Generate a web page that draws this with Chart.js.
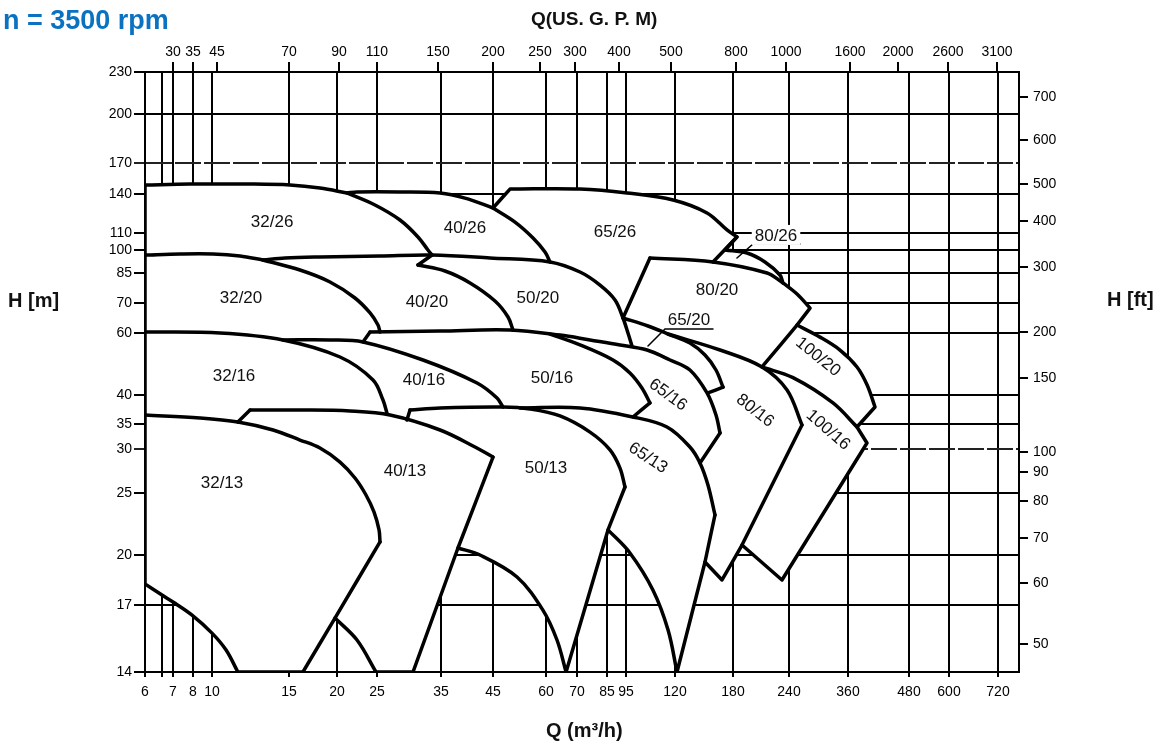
<!DOCTYPE html>
<html lang="en">
<head>
<meta charset="utf-8">
<title>n = 3500 rpm - pump selection chart</title>
<script src="https://cdn.jsdelivr.net/npm/chart.js@4.4.1/dist/chart.umd.min.js"></script>
<style>
  html, body { margin: 0; padding: 0; background: #fff; }
  #wrap { position: relative; width: 1165px; height: 749px; font-family: "Liberation Sans", Arial, sans-serif; }
  #wrap canvas { position: absolute; left: 0; top: 0; }
  .txt { position: absolute; font-weight: bold; line-height: 1; white-space: nowrap; color: #111; }
  #speed { left: 3px; top: 7px; font-size: 27px; color: #0b72c1; }
  #gpmTitle { left: 531px; top: 9px; font-size: 19px; }
  #qTitle { left: 546px; top: 720px; font-size: 20px; }
  #hmTitle { left: 8px; top: 290px; font-size: 20px; }
  #hftTitle { left: 1107px; top: 289px; font-size: 20px; }
</style>
</head>
<body>
<div id="wrap">
  <canvas id="chart" width="1165" height="749"></canvas>
  <div class="txt" id="speed">n = 3500 rpm</div>
  <div class="txt" id="gpmTitle">Q(US. G. P. M)</div>
  <div class="txt" id="qTitle">Q (m³/h)</div>
  <div class="txt" id="hmTitle">H [m]</div>
  <div class="txt" id="hftTitle">H [ft]</div>
</div>
<script>
// ---- axis ticks ----
const qTicks   = [6, 7, 8, 10, 15, 20, 25, 35, 45, 60, 70, 85, 95, 120, 180, 240, 360, 480, 600, 720];
const qGrid    = [6, 6.5, 7, 8, 10, 15, 20, 25, 35, 45, 60, 70, 85, 95, 120, 180, 240, 360, 480, 600, 720];
const gpmTicks = [30, 35, 45, 70, 90, 110, 150, 200, 250, 300, 400, 500, 800, 1000, 1600, 2000, 2600, 3100];
const hTicks   = [14, 17, 20, 25, 30, 35, 40, 60, 70, 85, 100, 110, 140, 170, 200, 230];
const ftTicks  = [50, 60, 70, 80, 90, 100, 150, 200, 300, 400, 500, 600, 700];
const hDashed  = [30, 170];   // these two head lines are printed broken

// ---- operating fields, every point is [Q m3/h, H m] ----
// outer edge of all fields, walked clockwise; pieces meet at corners
const edgeTop26    = [[6, 148.1], [7.84, 149], [12.22, 149], [15.09, 148.1], [18.06, 145.3], [21.14, 140.9]];
const edgeTop40    = [[21.14, 140.9], [22.36, 141.8], [28.21, 141.8], [34.83, 140.9], [39.3, 136.5], [45, 128.4]];
const edgeStep65   = [[45, 128.4], [49.35, 144.4]];
const edgeTop65    = [[49.35, 144.4], [71.37, 144.4], [95.5, 140.9], [118.9, 134.9], [150.1, 124.5], [172.6, 112.1], [183.7, 107.6]];
const edgeStep80   = [[183.7, 107.6], [170.2, 100]];
const edgeTop80_26 = [[170.2, 100], [193.4, 97.9], [212.1, 91.9], [229.1, 83.9], [232.7, 79.7]];
const edgeTop80_20 = [[232.7, 79.7], [253.6, 74.2], [277.3, 68.2]];
const edgeStep100  = [[277.3, 68.2], [253.6, 62.5]];
const edgeTop100   = [[253.6, 62.5], [297, 58.4], [340.7, 53.68], [375.6, 48.05], [394, 42.7], [408.9, 37.85]];
const edgeRight    = [[408.9, 37.85], [375.6, 34.36], [393.7, 31.13], [231.5, 18.44], [188.5, 20.73],
                      [166.7, 18.44], [148, 19.55], [121.7, 14]];
const edgeArc65_13 = [[121.7, 14], [116.1, 15.81], [108, 17.85], [96.8, 20.15], [85.5, 21.89]];
const edgeLine50   = [[85.5, 21.89], [66.3, 14]];
const edgeArc50_13 = [[66.3, 14], [63.37, 15.36], [59, 16.75], [51.27, 18.62], [42.25, 20], [37.99, 20.51]];
const edgeLine40   = [[37.99, 20.51], [30.21, 14], [24.86, 14]];
const edgeArc40_13 = [[24.86, 14], [22.36, 15.36], [19.76, 16.37]];
const edgeLine32   = [[19.76, 16.37], [16.31, 14], [11.46, 14]];
const edgeArc32_13 = [[11.46, 14], [10.77, 14.92], [10, 15.67], [7.95, 16.51], [7, 17.17], [6.5, 17.56], [6, 18.2]];
const edgeLeft     = [[6, 18.2], [6, 148.1]];

// borders between fields
const c32_26r  = [[21.14, 140.9], [24.72, 130.8], [28.21, 119.2], [31.01, 107.6], [32.68, 100], [33.39, 96.5]];
const c40_26r  = [[45, 128.4], [50.71, 117.7], [55.92, 107], [59.68, 98.6], [61.2, 91.9]];
const c65_26r  = [[183.7, 107.6], [156.5, 91.9]];
const c32_26b  = [[6, 96.5], [7.34, 97.2], [10.05, 97.2], [11.59, 95.85], [13.08, 93.2]];
const c26_20   = [[13.08, 93.2], [14.69, 94.5], [18.06, 95.2], [25.4, 95.85], [33.39, 96.5], [44.35, 94.5], [61.2, 91.9],
                  [71.37, 85.6], [81.24, 78.6], [89.08, 71.4], [93.34, 64.81], [95.9, 60], [97.75, 55.1]];
const c32_20   = [[13.08, 93.2], [16.02, 86.8], [19.18, 80.2], [22.11, 72.3], [24.05, 66.5], [25.13, 62.52], [25.4, 60.31]];
const c40_20h  = [[33.39, 96.5], [31.01, 89.95]];
const c40_20   = [[31.01, 89.95], [35.68, 86.2], [40.27, 79.7], [45.49, 70.91], [48.82, 65.15], [50.16, 60.93]];
const c80_20l  = [[93.34, 64.81], [106.5, 94.5]];
const c80_20t  = [[106.5, 94.5], [156.5, 91.9], [214.4, 85], [232.7, 79.7]];
const c80_20r  = [[253.6, 62.5], [208.9, 48.05]];
const c65_20   = [[93.34, 64.81], [105.5, 62.2], [116.1, 59.6], [133.2, 56.22], [148, 51.96], [159.8, 47.1], [167.9, 42.09]];
const c65_20e  = [[167.9, 42.09], [151.1, 40.53]];
const c32_16   = [[6, 60.31], [10.43, 60], [14.53, 57.33], [20.34, 51.28], [24.45, 44.12], [25.8, 39.09], [26.34, 36.82]];
const c40_16   = [[14.53, 57.33], [19.18, 57.33], [23.12, 56.6], [31.84, 50.29], [41.66, 43.26], [45.99, 39.45], [47.51, 37.85]];
const c50_16s  = [[23.12, 56.6], [24.05, 60.31]];
const c50_16   = [[24.05, 60.31], [34.83, 60.62], [49.35, 60.93], [64.33, 59.2], [76.14, 57.33], [91.72, 55.5], [105, 53.68],
                  [117.2, 50.29], [133.2, 47.1], [150.1, 40.53], [159.8, 36.48], [164.4, 33.11]];
const c65_16e  = [[164.4, 33.11], [142.9, 28.31]];
const c50_16r  = [[61.2, 59.6], [71.37, 55.5], [88.04, 50.29], [96.8, 46.19], [102.5, 41.87], [106.5, 38.56]];
const c50_16e  = [[106.5, 38.56], [98.22, 36.15]];
const c80_16   = [[116.1, 59.6], [164.4, 53.68], [208.9, 48.05], [237.6, 41.33], [262.4, 34.79]];
const c80_16e  = [[262.4, 34.79], [188.5, 20.73]];
const c100_16  = [[208.9, 48.05], [246.7, 44.8], [324.7, 38.56], [375.6, 34.36]];
const c32_13   = [[6, 36.48], [8.68, 35.98], [11.46, 35.32], [13.79, 33.73], [16.02, 31.71], [18.06, 30.18], [20.34, 28.42],
                  [22.11, 26.6], [23.51, 24.82], [24.58, 23.35], [25.27, 21.89], [25.4, 20.96]];
const c32_13e  = [[25.4, 20.96], [19.76, 16.37]];
const c40_13k  = [[11.46, 35.32], [12.22, 37.33]];
const c40_13   = [[12.22, 37.33], [16.02, 37.33], [21.5, 37.16], [26.77, 36.48], [34.83, 33.73], [41.25, 30.37], [45, 29.02]];
const c40_13e  = [[45, 29.02], [37.99, 20.51]];
const c50_13k  = [[29.26, 35.65], [29.74, 37.33]];
const c50_13   = [[29.74, 37.33], [34.83, 37.68], [47.51, 37.85], [55, 37.5], [64.33, 36.32], [76.14, 33.3], [86.5, 29.9],
                  [91.72, 27.72], [94.44, 25.63]];
const c50_13e  = [[94.44, 25.63], [85.5, 21.89]];
const c65_13   = [[52.11, 37.68], [71.37, 37.68], [98.22, 36.15], [115.5, 34.36], [133.2, 30.37], [142.9, 28.31],
                  [151.1, 25.84], [158.7, 23.1]];
const c65_13e  = [[158.7, 23.1], [148, 19.55]];

// pointer lines under the two small field names
const lead80_26 = [[258.8, 103.4], [199.5, 103.4], [183.7, 94.5]];
const lead65_20 = [[156.5, 61.25], [114.4, 61.25], [105.5, 55.1]];

// field names and where they are written
const fieldNames = ['32/26', '40/26', '65/26', '80/26', '32/20', '40/20', '50/20', '80/20', '65/20', '100/20',
                    '32/16', '40/16', '50/16', '65/16', '80/16', '100/16', '32/13', '40/13', '50/13', '65/13'];
const nameQ = [13.72, 39.3, 89.08, 224.5, 11.65, 32.5, 57.4, 161, 132.3, 292.9,
               11.23, 32, 61.8, 116.1, 201.5, 313.8, 10.54, 28.96, 60, 105.5];
const nameH = [117.7, 113.5, 110.7, 108.2, 72.3, 70.45, 72.3, 76.1, 64.15, 51.28,
               45.2, 44.12, 44.6, 40, 37.2, 33.7, 26.05, 27.39, 27.72, 28.9];
const nameTilt = [0, 0, 0, 0, 0, 0, 0, 0, 0, 39, 0, 0, 0, 36, 38, 41, 0, 0, 0, 33];
const boxedNames = ['80/26'];

// ---- layout: the printed axes are hand spaced, so every tick sits where the sheet puts it (px) ----
const FRAME = { left: 145, right: 1019, top: 72, bottom: 672, width: 1165, height: 749 };
const qGridPx   = [145, 162, 173, 193, 212, 289, 337, 377, 441, 493, 546, 577, 607, 626, 675, 733, 789, 848, 909, 949, 998];
const gpmTickPx = [173, 193, 217, 289, 339, 377, 438, 493, 540, 575, 619, 671, 736, 786, 850, 898, 948, 997];
const hTickPx   = [672, 605, 555, 493, 449, 424, 395, 333, 303, 273, 250, 233, 194, 163, 114, 72];
const ftTickPx  = [644, 583, 538, 501, 472, 452, 378, 332, 267, 221, 184, 140, 97];

const axisStops = {
  x:  { vals: [...qGrid, 780],         px: [...qGridPx, FRAME.right],               ticks: qGrid },
  x2: { vals: [24, ...gpmTicks, 3350], px: [FRAME.left, ...gpmTickPx, FRAME.right], ticks: gpmTicks },
  y:  { vals: hTicks,                  px: hTickPx,                                 ticks: hTicks },
  y2: { vals: [46, ...ftTicks, 755],   px: [FRAME.bottom, ...ftTickPx, FRAME.top],  ticks: ftTicks }
};

// log scale, piecewise between the printed ticks
class KnotScale extends Chart.LinearScale {
  static id = 'knot';
  stops() {
    const s = axisStops[this.id];
    const horiz = this.isHorizontal();
    const frac = s.px.map(p => horiz
      ? (p - FRAME.left) / (FRAME.right - FRAME.left)
      : (FRAME.bottom - p) / (FRAME.bottom - FRAME.top));
    return { vals: s.vals, frac };
  }
  buildTicks() {
    return axisStops[this.id].ticks.map(value => ({ value }));
  }
  getPixelForValue(value) {
    if (value == null || !(value > 0)) return NaN;
    const { vals, frac } = this.stops();
    let i = 0;
    while (i < vals.length - 2 && value > vals[i + 1]) i++;
    const t = Math.log(value / vals[i]) / Math.log(vals[i + 1] / vals[i]);
    return this.getPixelForDecimal(frac[i] + t * (frac[i + 1] - frac[i]));
  }
  getValueForPixel(pixel) {
    const d = this.getDecimalForPixel(pixel);
    const { vals, frac } = this.stops();
    let i = 0;
    while (i < frac.length - 2 && d > frac[i + 1]) i++;
    const t = (d - frac[i]) / (frac[i + 1] - frac[i]);
    return vals[i] * Math.pow(vals[i + 1] / vals[i], t);
  }
}
Chart.register(KnotScale);

Chart.defaults.font.family = '"Liberation Sans", Arial, sans-serif';
Chart.defaults.font.size = 14;
Chart.defaults.color = '#000';

const toXY = pts => pts.map(([x, y]) => ({ x, y }));
// repeat inner points of a straight chain so the spline keeps its corners
const sharp = pts => pts.flatMap((p, i) => (i > 0 && i < pts.length - 1) ? [p, p] : [p]);

const outline = [
  edgeTop26, edgeTop40, edgeStep65, edgeTop65, edgeStep80, edgeTop80_26, edgeTop80_20, edgeStep100, edgeTop100,
  sharp(edgeRight), edgeArc65_13, edgeLine50, edgeArc50_13, sharp(edgeLine40), edgeArc40_13, sharp(edgeLine32),
  edgeArc32_13, edgeLeft
].flat();

const inner = [c32_26r, c40_26r, c65_26r, c32_26b, c26_20, c32_20, c40_20h, c40_20, c80_20l, c80_20t, c80_20r,
               c65_20, c65_20e, c32_16, c40_16, c50_16s, c50_16, c65_16e, c50_16r, c50_16e, c80_16, c80_16e, c100_16,
               c32_13, c32_13e, c40_13k, c40_13, c40_13e, c50_13k, c50_13, c50_13e, c65_13, c65_13e];

const lineStyle = { showLine: true, fill: false, pointRadius: 0, borderColor: '#000', borderCapStyle: 'round' };

const datasets = [
  ...inner.map(c => ({ ...lineStyle, data: toXY(c), borderWidth: 3.5, tension: 0.35, borderJoinStyle: 'round' })),
  ...[lead80_26, lead65_20].map(c => ({ ...lineStyle, data: toXY(c), borderWidth: 1.5, tension: 0 })),
  {
    ...lineStyle, data: toXY(outline), order: 1, fill: 'shape', backgroundColor: '#fff',
    borderWidth: 3.5, tension: 0.35, borderJoinStyle: 'round'
  }
];

// field names written into the fields
const fieldLabels = {
  id: 'fieldLabels',
  afterDatasetsDraw(chart) {
    const { ctx, scales: { x, y } } = chart;
    ctx.save();
    ctx.font = '17px "Liberation Sans", Arial, sans-serif';
    ctx.textAlign = 'center';
    ctx.textBaseline = 'middle';
    fieldNames.forEach((name, i) => {
      ctx.save();
      ctx.translate(x.getPixelForValue(nameQ[i]), y.getPixelForValue(nameH[i]));
      ctx.rotate(nameTilt[i] * Math.PI / 180);
      if (boxedNames.includes(name)) {
        const w = ctx.measureText(name).width + 6;
        ctx.fillStyle = '#fff';
        ctx.fillRect(-w / 2, -11, w, 20);
      }
      ctx.fillStyle = '#111';
      ctx.fillText(name, 0, 0);
      ctx.restore();
    });
    ctx.restore();
  }
};

const frameBorder = { display: true, color: '#000', width: 2 };
const isDashed = c => c.tick && hDashed.includes(c.tick.value);

new Chart(document.getElementById('chart'), {
  type: 'scatter',
  data: { datasets },
  options: {
    responsive: false,
    animation: false,
    events: [],
    layout: { padding: 0 },
    plugins: { legend: { display: false }, tooltip: { enabled: false } },
    scales: {
      x: {
        type: 'knot', position: 'bottom', min: 6, max: 780,
        border: frameBorder,
        grid: { color: '#000', lineWidth: 2, tickLength: 5 },
        ticks: { padding: 7, autoSkip: false, maxRotation: 0, minRotation: 0,
                 callback: v => qTicks.includes(v) ? String(v) : '' },
        afterFit: s => { s.height = FRAME.height - FRAME.bottom; }
      },
      x2: {
        type: 'knot', position: 'top', min: 24, max: 3350,
        border: frameBorder,
        grid: { drawOnChartArea: false, color: '#000', lineWidth: 2, tickLength: 10 },
        ticks: { padding: 1, autoSkip: false, maxRotation: 0, minRotation: 0, callback: v => String(v) },
        afterFit: s => { s.height = FRAME.top; }
      },
      y: {
        type: 'knot', position: 'left', min: 14, max: 230,
        border: { ...frameBorder, dash: c => isDashed(c) ? [26, 3] : [] },
        grid: { color: c => isDashed(c) ? '#222' : '#000', lineWidth: 2, tickLength: 11 },
        ticks: { padding: 2, autoSkip: false, callback: v => String(v) },
        afterFit: s => { s.width = FRAME.left; }
      },
      y2: {
        type: 'knot', position: 'right', min: 46, max: 755,
        border: frameBorder,
        grid: { drawOnChartArea: false, color: '#000', lineWidth: 2, tickLength: 9 },
        ticks: { padding: 5, autoSkip: false, callback: v => String(v) },
        afterFit: s => { s.width = FRAME.width - FRAME.right; }
      }
    }
  },
  plugins: [fieldLabels]
});
</script>
</body>
</html>
